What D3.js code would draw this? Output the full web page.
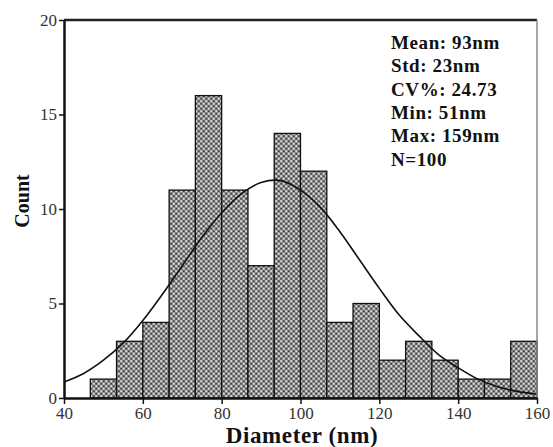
<!DOCTYPE html>
<html>
<head>
<meta charset="utf-8">
<script src="https://cdn.jsdelivr.net/npm/d3@7"></script>
<style>
  body { margin: 0; background: #fff; }
  text { font-family: "Liberation Serif", "Times New Roman", serif; }
</style>
</head>
<body>
<div id="hist"></div>
<script>
// bin edges (nm) and counts
const binStart = [46.67, 53.33, 60, 66.67, 73.33, 80, 86.67, 93.33, 100, 106.67, 113.33, 120, 126.67, 133.33, 140, 146.67, 153.33];
const binEnd = [53.33, 60, 66.67, 73.33, 80, 86.67, 93.33, 100, 106.67, 113.33, 120, 126.67, 133.33, 140, 146.67, 153.33, 160];
const counts = [1, 3, 4, 11, 16, 11, 7, 14, 12, 4, 5, 2, 3, 2, 1, 1, 3];

// fitted curve
const curveX = [40, 45, 50, 55, 60, 65, 70, 75, 80, 85, 90, 95, 100, 105, 110, 115, 120, 125, 130, 135, 140, 145, 150, 155, 160];
const curveY = [0.85, 1.3, 2.0, 2.9, 4.1, 5.5, 7.0, 8.5, 9.8, 10.8, 11.4, 11.5, 11.0, 10.1, 8.8, 7.3, 5.8, 4.4, 3.3, 2.3, 1.6, 1.0, 0.6, 0.35, 0.2];

const xTicks = [40, 60, 80, 100, 120, 140, 160];
const yTicks = [0, 5, 10, 15, 20];
const statsLines = ["Mean: 93nm", "Std: 23nm", "CV%: 24.73", "Min: 51nm", "Max: 159nm", "N=100"];

const width = 553;
const height = 447;
const margin = { top: 20, right: 16, bottom: 49, left: 64 };

const svg = d3.select('#hist')
  .append('svg')
  .attr('width', width)
  .attr('height', height);

// cross-hatched grey fill
const pat = svg.append('defs').append('pattern')
  .attr('id', 'hatch')
  .attr('patternUnits', 'userSpaceOnUse')
  .attr('width', 5)
  .attr('height', 5);
pat.append('rect').attr('width', 5).attr('height', 5).attr('fill', '#7c7c7c');
pat.append('circle').attr('cx', 1.25).attr('cy', 1.25).attr('r', 1.15).attr('fill', '#d6d6d6');
pat.append('circle').attr('cx', 3.75).attr('cy', 3.75).attr('r', 1.15).attr('fill', '#d6d6d6');
pat.append('circle').attr('cx', 3.75).attr('cy', 1.25).attr('r', 0.8).attr('fill', '#333');
pat.append('circle').attr('cx', 1.25).attr('cy', 3.75).attr('r', 0.8).attr('fill', '#333');

const x = d3.scaleLinear()
  .domain([40, 160])
  .range([margin.left, width - margin.right]);

const y = d3.scaleLinear()
  .domain([0, 20])
  .range([height - margin.bottom, margin.top]);

const bins = counts.map((c, i) => ({ x0: binStart[i], x1: binEnd[i], n: c }));

svg.append('g')
  .selectAll('rect')
  .data(bins)
  .join('rect')
    .attr('x', d => x(d.x0))
    .attr('y', d => y(d.n))
    .attr('width', d => x(d.x1) - x(d.x0))
    .attr('height', d => y(0) - y(d.n))
    .attr('fill', 'url(#hatch)')
    .attr('stroke', '#111')
    .attr('stroke-width', 1.3);

// fit line
const line = d3.line()
  .x(d => x(d[0]))
  .y(d => y(d[1]))
  .curve(d3.curveCatmullRom);

svg.append('path')
  .datum(curveX.map((v, i) => [v, curveY[i]]))
  .attr('d', line)
  .attr('fill', 'none')
  .attr('stroke', '#111')
  .attr('stroke-width', 1.6);

// frame: top + right
svg.append('line')
  .attr('x1', x(40)).attr('x2', x(160))
  .attr('y1', y(20)).attr('y2', y(20))
  .attr('stroke', '#222').attr('stroke-width', 2.5);
svg.append('line')
  .attr('x1', x(160)).attr('x2', x(160))
  .attr('y1', y(20)).attr('y2', y(0))
  .attr('stroke', '#888').attr('stroke-width', 1.5);

function xAxis(g) {
  g.attr('transform', `translate(0,${y(0)})`)
    .call(d3.axisBottom(x).tickValues(xTicks).tickSize(6).tickSizeOuter(0).tickPadding(3))
    .attr('font-size', '17px')
    .attr('font-family', '"Liberation Serif", serif');
  g.select('.domain').attr('stroke', '#111').attr('stroke-width', 2.5);
  g.selectAll('.tick line').attr('stroke', '#111').attr('stroke-width', 1.5);
  g.selectAll('.tick text').attr('fill', '#333');
}

function yAxis(g) {
  g.attr('transform', `translate(${x(40)},0)`)
    .call(d3.axisLeft(y).tickValues(yTicks).tickSize(5).tickSizeOuter(0).tickPadding(2))
    .attr('font-size', '17px')
    .attr('font-family', '"Liberation Serif", serif');
  g.select('.domain').attr('stroke', '#111').attr('stroke-width', 2.5);
  g.selectAll('.tick line').attr('stroke', '#111').attr('stroke-width', 1.5);
  g.selectAll('.tick text').attr('fill', '#333');
}

svg.append('g').call(xAxis);
svg.append('g').call(yAxis);

svg.append('text')
  .attr('x', 302)
  .attr('y', 443)
  .attr('text-anchor', 'middle')
  .attr('font-size', '23px')
  .attr('font-weight', 'bold')
  .attr('letter-spacing', '0.6px')
  .attr('fill', '#111')
  .text('Diameter (nm)');

svg.append('text')
  .attr('transform', `translate(29,201) rotate(-90)`)
  .attr('text-anchor', 'middle')
  .attr('font-size', '20px')
  .attr('font-weight', 'bold')
  .attr('fill', '#111')
  .text('Count');

svg.append('g')
  .selectAll('text')
  .data(statsLines)
  .join('text')
    .attr('x', 391)
    .attr('y', (d, i) => 49 + i * 23.3)
    .attr('font-size', '19px')
    .attr('font-weight', 'bold')
    .attr('letter-spacing', '0.6px')
    .attr('fill', '#111')
    .text(d => d);
</script>
</body>
</html>
